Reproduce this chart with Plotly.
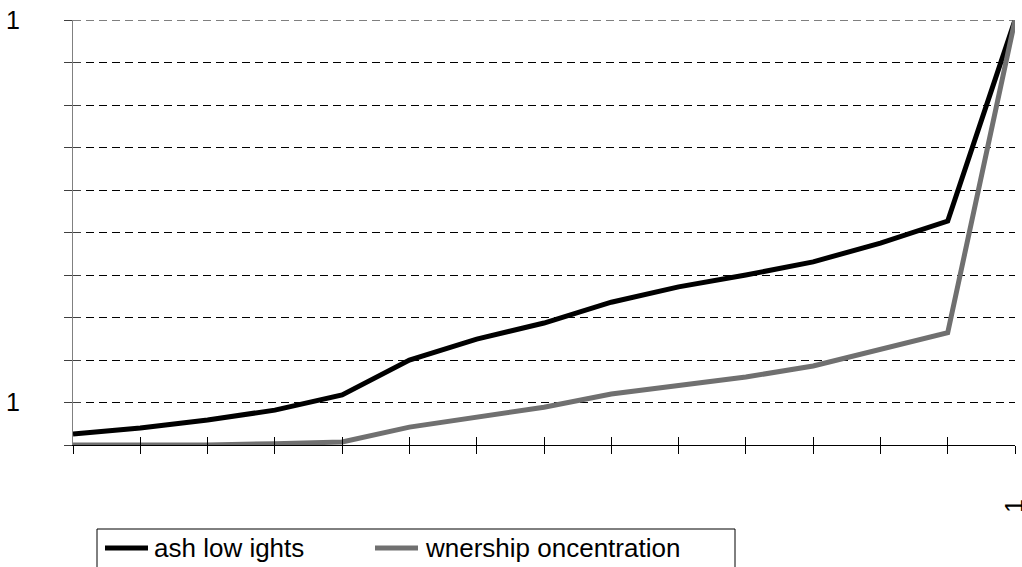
import plotly.graph_objects as go

x_idx = list(range(15))
x_ticktext = [""] * 14 + ["1"]
cash_flow = [0.26, 0.40, 0.59, 0.82, 1.18, 2.0, 2.49, 2.87, 3.36, 3.72, 4.0, 4.31, 4.75, 5.27, 10.0]
ownership = [0.0, 0.0, 0.0, 0.03, 0.07, 0.42, 0.66, 0.89, 1.2, 1.39, 1.6, 1.86, 2.26, 2.64, 10.0]
y_tickvals = list(range(11))
y_ticktext = ["", "1", "", "", "", "", "", "", "", "", "1"]
names = ["ash low ights", "wnership oncentration"]
colors = ["#000000", "#707070"]

L, R, T, B = 73, 7, 20, 122
W, H = 1022, 567
pw, ph = W - L - R, H - T - B
def px(xp):
    return (xp - L) / pw
def py(yp):
    return (H - B - yp) / ph

fig = go.Figure()
for name, vals, col in zip(names, [cash_flow, ownership], colors):
    fig.add_trace(go.Scatter(x=x_idx, y=vals, mode="lines", name=name,
                             line=dict(color=col, width=5), showlegend=False))
# invisible trace to host overlay axes for crossing ticks
fig.add_trace(go.Scatter(x=[0], y=[0], xaxis="x2", yaxis="y2", mode="markers",
                         marker=dict(opacity=0), showlegend=False, hoverinfo="skip"))

font = dict(family="Liberation Sans, Arial, sans-serif", size=25, color="#000000")
leg_font = dict(family="Liberation Sans, Arial, sans-serif", size=26, color="#000000")

# manual legend
sample_x = [(105, 148), (375, 418)]
text_x = [152, 423]
leg_y = 548
shapes = [dict(type="rect", xref="paper", yref="paper",
               x0=px(97), x1=px(735), y0=py(529), y1=py(575),
               line=dict(color="#000000", width=1), fillcolor="rgba(0,0,0,0)"),
          # top gridline (range edge)
          dict(type="line", xref="paper", yref="y", x0=0, x1=1,
               y0=y_tickvals[-1], y1=y_tickvals[-1], layer="below",
               line=dict(color="#000000", width=1, dash="8px,5px"))]
annotations = []
for (a, b), tx, name, col in zip(sample_x, text_x, names, colors):
    shapes.append(dict(type="line", xref="paper", yref="paper",
                       x0=px(a), x1=px(b), y0=py(leg_y), y1=py(leg_y),
                       line=dict(color=col, width=5)))
    annotations.append(dict(xref="paper", yref="paper", x=px(tx), y=py(leg_y),
                            text=name, showarrow=False, xanchor="left", yanchor="middle",
                            font=leg_font))

fig.update_layout(
    width=W, height=H,
    margin=dict(l=L, r=R, t=T, b=B, pad=0),
    paper_bgcolor="white", plot_bgcolor="white",
    font=font,
    showlegend=False,
    xaxis=dict(range=[0, 14], tickvals=x_idx, ticktext=x_ticktext, tickangle=-90,
               showline=True, linecolor="#000000", linewidth=1,
               ticks="outside", ticklen=8, tickcolor="#000000", tickwidth=1,
               showgrid=False, zeroline=False, ticklabelstandoff=35, tickfont=font,
               ticklabeloverflow="allow", automargin=False),
    yaxis=dict(range=[0, 10], tickvals=y_tickvals, ticktext=y_ticktext,
               showline=True, linecolor="#808080", linewidth=1,
               ticks="outside", ticklen=8, tickcolor="#404040", tickwidth=1,
               showgrid=True, gridcolor="#000000", gridwidth=1, griddash="8px,5px",
               zeroline=False, ticklabelstandoff=39, tickfont=font,
               ticklabeloverflow="allow", automargin=False),
    xaxis2=dict(range=[0, 14], overlaying="x", anchor="y", tickvals=x_idx,
                showticklabels=False, ticks="inside", ticklen=8, tickcolor="#000000",
                showgrid=False, zeroline=False, showline=False, side="bottom",
                automargin=False),
    yaxis2=dict(range=[0, 10], overlaying="y", anchor="x", tickvals=y_tickvals,
                showticklabels=False, ticks="inside", ticklen=8, tickcolor="#404040",
                showgrid=False, zeroline=False, showline=False, side="left",
                automargin=False),
    shapes=shapes,
    annotations=annotations,
)

fig.write_html("out.html", config={"displayModeBar": False},
               post_script="document.body.style.margin='0';")
